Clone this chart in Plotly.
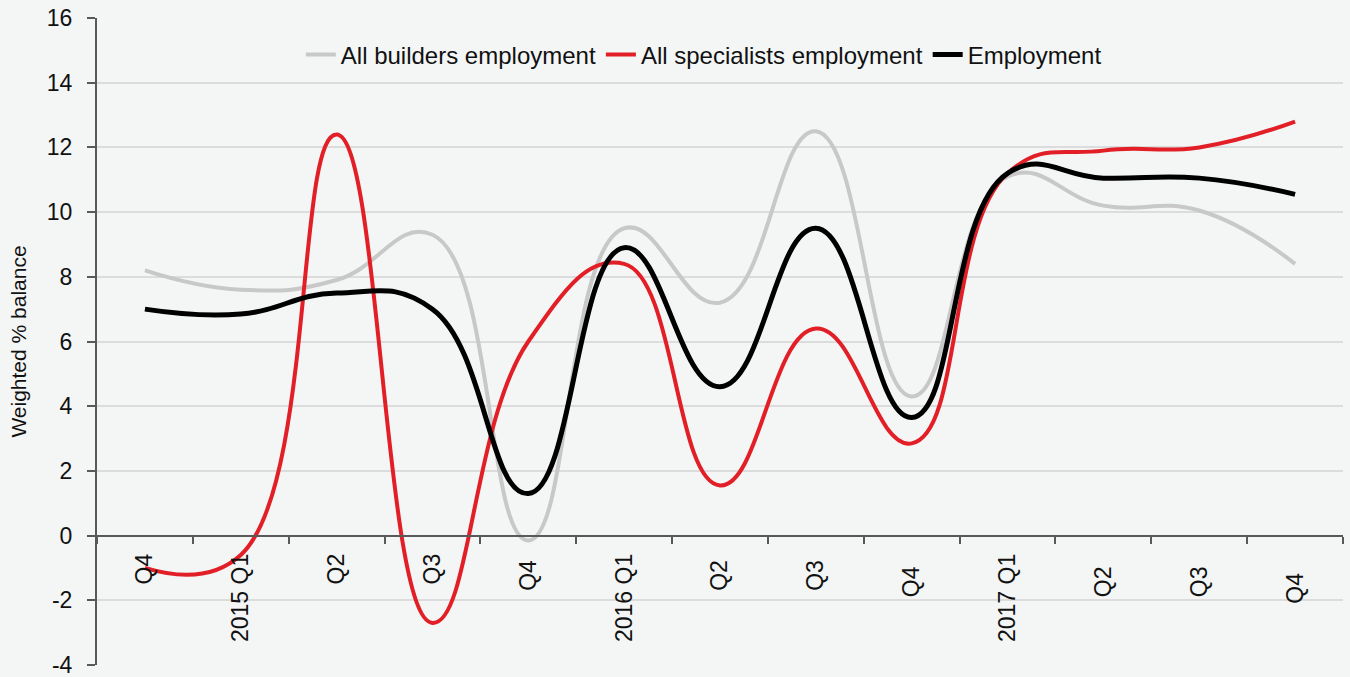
import plotly.graph_objects as go

categories = ["Q4", "2015 Q1", "Q2", "Q3", "Q4 ", "2016 Q1", "Q2 ", "Q3 ", "Q4  ",
              "2017 Q1", "Q2  ", "Q3  ", "Q4   "]
builders = [8.2, 7.6, 7.9, 9.3, -0.15, 9.5, 7.2, 12.5, 4.3, 11.1, 10.2, 10.05, 8.4]
specialists = [-1.0, -0.6, 12.4, -2.7, 6.0, 8.4, 1.55, 6.4, 2.85, 11.2, 11.9, 12.0, 12.8]
employment = [7.0, 6.85, 7.5, 7.0, 1.3, 8.9, 4.6, 9.5, 3.65, 11.2, 11.05, 11.05, 10.55]

series_names = ["All builders employment", "All specialists employment", "Employment"]
y_ticks = list(range(-4, 18, 2))
y_tick_text = [str(v) for v in y_ticks]

FONT = "Liberation Sans, Arial, sans-serif"
BG = "#f4f6f6"

fig = go.Figure()
for name, vals, color, width in [
    (series_names[0], builders, "#c8c8c8", 4),
    (series_names[1], specialists, "#e21f26", 4),
    (series_names[2], employment, "#000000", 5),
]:
    fig.add_trace(go.Scatter(
        x=categories, y=vals, name=name, mode="lines",
        line=dict(color=color, width=width, shape="spline", smoothing=1.3),
        hoverinfo="skip",
    ))

fig.update_layout(
    width=1350, height=677,
    margin=dict(l=97, r=7, t=18, b=12, autoexpand=False),
    paper_bgcolor=BG, plot_bgcolor=BG,
    font=dict(family=FONT, color="#111111", size=22),
    showlegend=True,
    legend=dict(
        orientation="h", x=0.487, xanchor="center", y=0.943, yanchor="middle",
        bgcolor="rgba(0,0,0,0)", font=dict(size=24, color="#111111"),
        itemwidth=30, traceorder="normal",
    ),
    xaxis=dict(
        type="category", categoryorder="array", categoryarray=categories,
        range=[-0.5, len(categories) - 0.5],
        anchor="free", position=0.2, automargin=False,
        showline=True, linecolor="#595959", linewidth=2,
        ticks="outside", tickson="boundaries", ticklen=7, tickwidth=2, tickcolor="#595959",
        tickangle=-90, tickfont=dict(size=23, color="#111111"),
        showgrid=False, zeroline=False, ticklabelstandoff=8,
    ),
    yaxis=dict(
        range=[-4, 16], tickvals=y_ticks, ticktext=y_tick_text, automargin=False,
        showline=True, linecolor="#595959", linewidth=2,
        ticks="outside", ticklen=8, tickwidth=2, tickcolor="#595959",
        tickfont=dict(size=23, color="#111111"),
        ticklabelstandoff=10, ticklabeloverflow="allow",
        showgrid=True, gridcolor="#dcdcdc", gridwidth=1.5,
        zeroline=False,
        title=dict(text="Weighted % balance", font=dict(size=21, color="#111111"), standoff=14),
    ),
)

fig.write_html(
    "out.html",
    config={"displayModeBar": False},
    post_script="document.body.style.margin='0px';document.body.style.background='%s';" % BG,
)
